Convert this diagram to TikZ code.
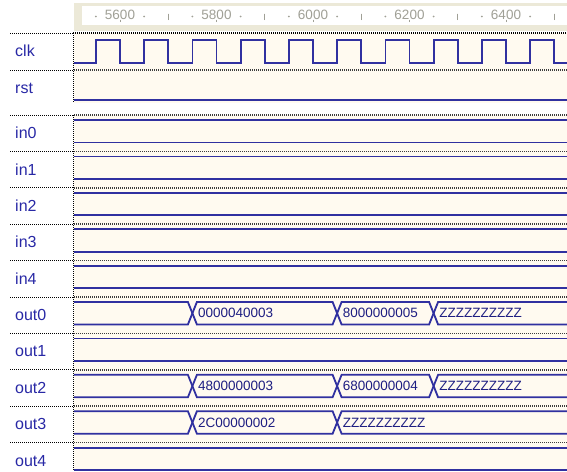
\documentclass[tikz,border=0pt]{standalone}
\usepackage{fontspec}
\setmainfont{Liberation Sans}
\usepackage{tikz}
\usetikzlibrary{
  positioning
}
\definecolor{wavebg}{RGB}{255, 250, 240}
\definecolor{rulerframe}{RGB}{236, 233, 216}
\definecolor{rulertext}{RGB}{160, 160, 150}
\definecolor{sigcolor}{RGB}{48, 48, 160}
\definecolor{namecolor}{RGB}{40, 40, 165}
\definecolor{valcolor}{RGB}{30, 30, 130}
\definecolor{sepcolor}{RGB}{60, 60, 60}
\tikzset{
signame/.style={
  anchor=west,
  inner sep=0pt,
  font=\fontsize{16}{16}\selectfont,
  text=namecolor
},
busval/.style={
  anchor=west,
  inner sep=0pt,
  font=\fontsize{13.5}{14}\selectfont,
  text=valcolor
},
rulerlbl/.style={
  inner sep=0pt,
  font=\fontsize{13.5}{14}\selectfont,
  text=rulertext
},
rulertick/.style={
  draw=rulertext,
  fill=rulertext,
  line width=0.8pt
},
sig/.style={
  draw=sigcolor,
  line width=1.8pt,
  line join=miter
},
namesep/.style={
  draw=black,
  line width=1pt,
  dash pattern=on 1pt off 1pt
},
wavesep/.style={
  draw=sepcolor,
  line width=1.5pt,
  dash pattern=on 1pt off 1pt
}
}

\begin{document}
\begin{tikzpicture}[x=1pt, y=-1pt]
    \useasboundingbox (0,0) rectangle (567,471);

    % Ruler
    \fill[rulerframe] (74,3) rectangle (567,31);
    \fill[white] (82,6) rectangle (567,25);
    \foreach \t in {5600,5800,...,6400}{
      \node[rulerlbl] (tick-\t) at ({120+(\t-5600)*0.4825},15) {\t};
      \draw[rulertick] ({120+(\t-5600)*0.4825},19.5) -- ({120+(\t-5600)*0.4825},22);
    }
    \foreach \t in {5550,5650,...,6450}
      \fill[rulertext] ({120+(\t-5600)*0.4825},16.5) circle (0.9);
    \foreach \t in {5700,5900,...,6500}
      \draw[rulertick] ({120+(\t-5600)*0.4825},13.5) -- ({120+(\t-5600)*0.4825},20);

    % Wave area background
    \fill[wavebg] (74,33) rectangle (567,102.5);
    \fill[wavebg] (74,115) rectangle (567,471);

    % Row separators
    \foreach \y in {33,70,115,151.4,187.8,224.2,260.6,297,333.4,369.8,406.2,442.6}
      \draw[namesep] (10,\y) -- (73,\y);
    \foreach \y in {70,115,151.4,187.8,224.2,260.6,297,333.4,369.8,406.2,442.6}
      \draw[wavesep] (74,\y) -- (567,\y);
    \draw[black, line width=2pt, dash pattern=on 1pt off 1pt] (73,33) -- (567,33);
    \draw[namesep] (73.5,33) -- (73.5,102.5);
    \draw[namesep] (73.5,115) -- (73.5,471);

    % Signal names
    \foreach \n/\y in {clk/33,rst/70,in0/115,in1/151.4,in2/187.8,in3/224.2,in4/260.6,out0/297,out1/333.4,out2/369.8,out3/406.2,out4/442.6}
      \node[signame] (lbl-\n) at (15,\y+18) {\n};

    % Clock and reset
    \draw[sig] (74,63) \foreach \k in {0,...,9}{
      -- ({95.9+48.25*\k},63) -- ({95.9+48.25*\k},40)
      -- ({120+48.25*\k},40) -- ({120+48.25*\k},63)} -- (567,63);
    \draw[sig] (74,100) -- (567,100);

    \begin{scope}
      \clip (74,33) rectangle (567,471);
      % Constant buses
      \foreach \y in {115,151.4,187.8,224.2,260.6,333.4,442.6}
        \draw[sig] (60,\y+5) -- (580,\y+5) (60,\y+27.5) -- (580,\y+27.5);
      % out0
      \foreach \xa/\xb/\val [count=\i] in {60/192.4/{}, 192.4/337.1/0000040003, 337.1/433.6/8000000005, 433.6/580/ZZZZZZZZZZ}{
        \draw[sig] (\xa,313.25) -- (\xa+4.5,302) -- (\xb-4.5,302) -- (\xb,313.25) -- (\xb-4.5,324.5) -- (\xa+4.5,324.5) -- cycle;
        \node[busval] (v-out0-\i) at (\xa+5.5,313.25) {\val};
      }
      % out2
      \foreach \xa/\xb/\val [count=\i] in {60/192.4/{}, 192.4/337.1/4800000003, 337.1/433.6/6800000004, 433.6/580/ZZZZZZZZZZ}{
        \draw[sig] (\xa,386.05) -- (\xa+4.5,374.8) -- (\xb-4.5,374.8) -- (\xb,386.05) -- (\xb-4.5,397.3) -- (\xa+4.5,397.3) -- cycle;
        \node[busval] (v-out2-\i) at (\xa+5.5,386.05) {\val};
      }
      % out3
      \foreach \xa/\xb/\val [count=\i] in {60/192.4/{}, 192.4/337.1/2C00000002, 337.1/580/ZZZZZZZZZZ}{
        \draw[sig] (\xa,422.45) -- (\xa+4.5,411.2) -- (\xb-4.5,411.2) -- (\xb,422.45) -- (\xb-4.5,433.7) -- (\xa+4.5,433.7) -- cycle;
        \node[busval] (v-out3-\i) at (\xa+5.5,422.45) {\val};
      }
    \end{scope}

  \end{tikzpicture}
\end{document}
